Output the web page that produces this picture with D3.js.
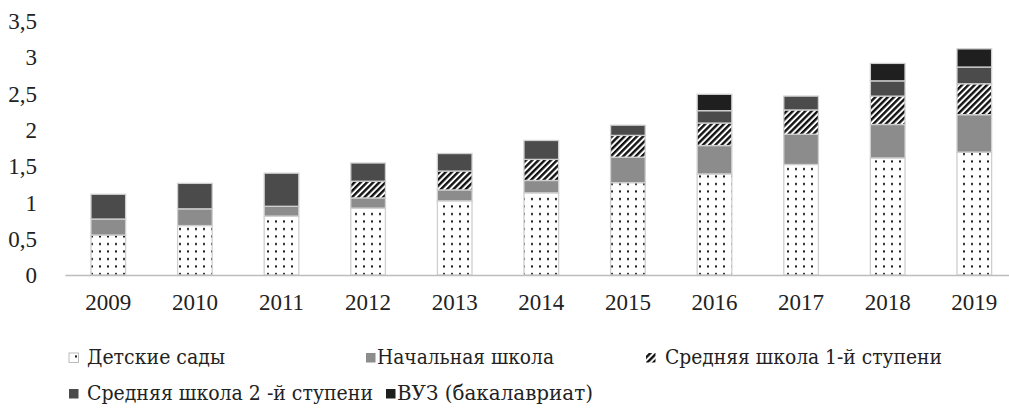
<!DOCTYPE html>
<html>
<head>
<meta charset="utf-8">
<script src="https://cdn.jsdelivr.net/npm/d3@7"></script>
<style>
  body { margin: 0; background: #fff; }
</style>
</head>
<body>
<div class="chart"></div>
<script>
var svgWidth = 1009;
var svgHeight = 411;

// data
var years = ["2009", "2010", "2011", "2012", "2013", "2014", "2015", "2016", "2017", "2018", "2019"];
var kindergarten = [0.55, 0.68, 0.81, 0.92, 1.02, 1.13, 1.27, 1.39, 1.52, 1.61, 1.69];
var primary = [0.22, 0.23, 0.135, 0.14, 0.15, 0.17, 0.35, 0.39, 0.415, 0.46, 0.515];
var secondary1 = [0, 0, 0, 0.23, 0.26, 0.29, 0.30, 0.31, 0.335, 0.39, 0.425];
var secondary2 = [0.34, 0.35, 0.455, 0.25, 0.24, 0.26, 0.14, 0.17, 0.19, 0.21, 0.23];
var university = [0, 0, 0, 0, 0, 0, 0, 0.225, 0, 0.24, 0.25];
var seriesNames = ["Детские сады", "Начальная школа", "Средняя школа 1-й ступени", "Средняя школа 2 -й ступени", "ВУЗ (бакалавриат)"];
var yTicks = [0, 0.5, 1, 1.5, 2, 2.5, 3, 3.5];

var keys = ["k", "p", "s1", "s2", "u"];
var fills = ["url(#dots)", "#8c8c8c", "url(#stripes)", "#4b4b4b", "#1f1f1f"];
var serif = "Liberation Serif, Times New Roman, serif";
var cyrSerif = "DejaVu Serif, serif";

var rows = years.map(function(y, i) {
  return { year: y, k: kindergarten[i], p: primary[i], s1: secondary1[i], s2: secondary2[i], u: university[i] };
});

var svg = d3.select(".chart")
  .append("svg")
  .attr("width", svgWidth)
  .attr("height", svgHeight)
  .style("display", "block");

// patterns
var defs = svg.append("defs");
var dots = defs.append("pattern")
  .attr("id", "dots")
  .attr("patternUnits", "userSpaceOnUse")
  .attr("width", 8)
  .attr("height", 7.5);
dots.append("rect").attr("width", 8).attr("height", 7.5).attr("fill", "#fff");
dots.append("rect").attr("x", 3).attr("y", 3).attr("width", 2).attr("height", 2).attr("fill", "#111");

var stripes = defs.append("pattern")
  .attr("id", "stripes")
  .attr("patternUnits", "userSpaceOnUse")
  .attr("width", 4.4)
  .attr("height", 4.4)
  .attr("patternTransform", "rotate(45)");
stripes.append("rect").attr("width", 4.4).attr("height", 4.4).attr("fill", "#fff");
stripes.append("rect").attr("width", 2.4).attr("height", 4.4).attr("fill", "#111");

var x = d3.scaleBand()
  .domain(years)
  .range([65, 1017.6])
  .paddingInner(0.6)
  .paddingOuter(0.3);

var y = d3.scaleLinear()
  .domain([0, 3.5])
  .range([275, 20.5]);

var fmt = d3.formatLocale({ decimal: ",", thousands: " ", grouping: [3], currency: ["", ""] }).format("~g");

// y axis labels (no line)
var yAxis = svg.append("g")
  .attr("transform", "translate(65,0)")
  .call(d3.axisLeft(y).tickValues(yTicks).tickFormat(fmt).tickSize(0).tickPadding(28));
yAxis.attr("font-family", serif);
yAxis.select(".domain").remove();
yAxis.selectAll("text")
  .attr("font-size", 23)
  .attr("fill", "#222")
  .attr("dy", "0.34em");

// stacked bars
var stack = d3.stack().keys(keys)(rows);
svg.append("g")
  .selectAll("g")
  .data(stack)
  .enter()
  .append("g")
  .attr("fill", function(d, i) { return fills[i]; })
  .selectAll("rect")
  .data(function(d) { return d.filter(function(s) { return s[1] - s[0] > 0; }); })
  .enter()
  .append("rect")
  .attr("x", function(d) { return x(d.data.year); })
  .attr("y", function(d) { return y(d[1]); })
  .attr("width", x.bandwidth())
  .attr("height", function(d) { return y(d[0]) - y(d[1]); })
  .attr("stroke", "#cfcfcf")
  .attr("stroke-width", 1.3);

// x axis
var xAxis = svg.append("g")
  .attr("transform", "translate(0,275)")
  .call(d3.axisBottom(x).tickSize(0).tickPadding(18.5));
xAxis.attr("font-family", serif);
xAxis.select(".domain").attr("stroke", "#bdbdbd").attr("stroke-width", 1.5);
xAxis.selectAll("text")
  .attr("font-size", 23)
  .attr("fill", "#222");

// legend: swatch x, text x, baseline y, text width
var legendLayout = [
  [69, 87, 364, 138],
  [366, 377, 364, 177],
  [646, 665, 364, 277],
  [69, 87, 400, 286],
  [386, 397, 400, 196]
];
var legend = svg.append("g")
  .selectAll("g")
  .data(seriesNames)
  .enter()
  .append("g");

legend.append("rect")
  .attr("x", function(d, i) { return legendLayout[i][0]; })
  .attr("y", function(d, i) { return legendLayout[i][2] - 11; })
  .attr("width", 9.5)
  .attr("height", 9.5)
  .attr("fill", function(d, i) { return fills[i]; })
  .attr("stroke", function(d, i) { return i === 0 ? "#bbb" : "none"; });

legend.append("text")
  .attr("x", function(d, i) { return legendLayout[i][1]; })
  .attr("y", function(d, i) { return legendLayout[i][2]; })
  .attr("font-size", 20.5)
  .attr("font-family", cyrSerif)
  .attr("fill", "#222")
  .attr("textLength", function(d, i) { return legendLayout[i][3]; })
  .attr("lengthAdjust", "spacingAndGlyphs")
  .text(function(d) { return d; });
</script>
</body>
</html>
